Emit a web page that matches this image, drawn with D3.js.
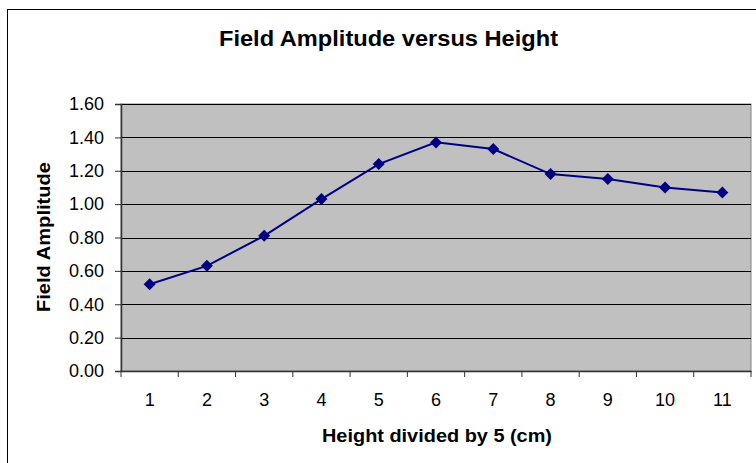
<!DOCTYPE html>
<html>
<head>
<meta charset="utf-8">
<script src="https://cdn.jsdelivr.net/npm/d3@7"></script>
<style>
  body { margin: 0; background: #fff; }
  text { font-family: "Liberation Sans", Arial, sans-serif; fill: #000; }
</style>
</head>
<body>
<script>
var svgWidth = 756;
var svgHeight = 463;
var margin = { top: 104, right: 5, bottom: 92, left: 121 },
    width = 751 - margin.left,
    height = 371 - margin.top;

var heights = ["1", "2", "3", "4", "5", "6", "7", "8", "9", "10", "11"];
var amplitude = [0.52, 0.63, 0.81, 1.03, 1.24, 1.37, 1.33, 1.18, 1.15, 1.10, 1.07];
var yTicks = [0, 0.2, 0.4, 0.6, 0.8, 1.0, 1.2, 1.4, 1.6];

var svg = d3.select("body").append("svg").attr("width", svgWidth).attr("height", svgHeight);

// outer chart border
svg.append("rect")
    .attr("x", 7.5).attr("y", 9.5)
    .attr("width", 760).attr("height", 470)
    .attr("fill", "#fff").attr("stroke", "#000").attr("stroke-width", 1);

svg.append("text")
    .attr("x", 388.5).attr("y", 46)
    .attr("text-anchor", "middle")
    .attr("textLength", 339).attr("lengthAdjust", "spacingAndGlyphs")
    .style("font-size", "22px").style("font-weight", "bold")
    .text("Field Amplitude versus Height");

var x = d3.scaleBand().domain(heights).range([0, width]).padding(0);
var y = d3.scaleLinear().domain([0, 1.6]).range([height, 0]);

var g = svg.append("g").attr("transform", `translate(${margin.left},${margin.top})`);

g.append("rect")
    .attr("width", width).attr("height", height)
    .attr("fill", "#c0c0c0").attr("stroke", "#808080").attr("stroke-width", 1);

// gridlines
g.selectAll(".grid").data(yTicks.slice(1))
    .enter().append("line")
    .attr("class", "grid")
    .attr("x1", 0).attr("x2", width)
    .attr("y1", d => Math.round(y(d)) + 0.5).attr("y2", d => Math.round(y(d)) + 0.5)
    .attr("stroke", "#000").attr("stroke-width", 1);

// y axis
var yAxis = g.append("g")
    .call(d3.axisLeft(y).tickValues(yTicks).tickFormat(d3.format(".2f")).tickSize(6).tickPadding(11));
yAxis.select(".domain").attr("stroke", "#333").attr("stroke-width", 1.5);
yAxis.selectAll(".tick line").attr("stroke", "#333");
yAxis.selectAll("text").style("font-size", "18px");

// x axis: ticks at category boundaries
var xAxis = g.append("g").attr("transform", `translate(0,${height})`)
    .call(d3.axisBottom(x).tickSize(0).tickPadding(22));
xAxis.select(".domain").attr("stroke", "#333").attr("stroke-width", 1.5);
xAxis.selectAll("text").style("font-size", "18px");
xAxis.selectAll(".bound").data(heights.concat(["end"]))
    .enter().append("line")
    .attr("class", "bound")
    .attr("x1", (d, i) => i * x.step()).attr("x2", (d, i) => i * x.step())
    .attr("y1", 0).attr("y2", 6)
    .attr("stroke", "#333");

var line = d3.line()
    .x((d, i) => x(heights[i]) + x.bandwidth() / 2)
    .y(d => y(d));

g.append("path").datum(amplitude)
    .attr("d", line)
    .attr("fill", "none").attr("stroke", "#000080").attr("stroke-width", 2);

g.selectAll(".pt").data(amplitude)
    .enter().append("path")
    .attr("class", "pt")
    .attr("transform", (d, i) => `translate(${x(heights[i]) + x.bandwidth() / 2},${y(d)})`)
    .attr("d", "M0,-6L6,0L0,6L-6,0Z")
    .attr("fill", "#000080");

svg.append("text")
    .attr("x", 437).attr("y", 442)
    .attr("text-anchor", "middle")
    .attr("textLength", 230).attr("lengthAdjust", "spacingAndGlyphs")
    .style("font-size", "18px").style("font-weight", "bold")
    .text("Height divided by 5 (cm)");

svg.append("text")
    .attr("transform", "translate(50,237) rotate(-90)")
    .attr("text-anchor", "middle")
    .attr("textLength", 150).attr("lengthAdjust", "spacingAndGlyphs")
    .style("font-size", "18px").style("font-weight", "bold")
    .text("Field Amplitude");
</script>
</body>
</html>
